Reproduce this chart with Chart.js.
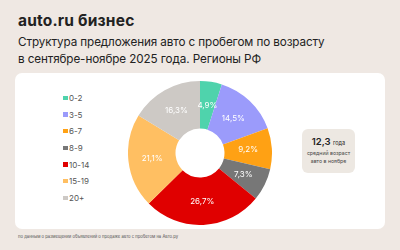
<!DOCTYPE html>
<html>
<head>
<meta charset="utf-8">
<script src="https://cdn.jsdelivr.net/npm/chart.js@4"></script>
<style>
  html, body { margin: 0; padding: 0; }
  body { width: 400px; height: 250px; background: #efe8e3; position: relative; overflow: hidden;
         font-family: Inter, "Noto Sans", sans-serif; color: #222; }
  .logo { position: absolute; left: 18px; top: 11px; font-size: 15.5px; font-weight: 700; letter-spacing: 0.2px; }
  .title { position: absolute; left: 18px; top: 34px; font-size: 11.7px; line-height: 16.5px; letter-spacing: -0.1px; }
  .card { position: absolute; left: 15px; top: 73px; width: 370px; height: 156px; background: #fff; border-radius: 7px; }
  #wrap { position: absolute; left: 128px; top: 81px; width: 144px; height: 144px; }
  #legend { position: absolute; left: 63px; top: 92px; font-size: 8px; color: #555; }
  #legend div { height: 16.7px; line-height: 12px; white-space: nowrap; }
  #legend span { display: inline-block; width: 4.5px; height: 4.5px; margin-right: 1.5px; vertical-align: 1px; }
  .info { position: absolute; left: 302px; top: 129px; width: 53px; height: 44px; background: #ede8e2; border-radius: 6px; text-align: center; }
  .info .big { margin-top: 7px; font-size: 9.5px; font-weight: 600; }
  .info .big small { font-size: 5.5px; font-weight: 400; }
  .info .sub { margin-top: 3px; font-size: 5.2px; line-height: 7.5px; color: #444; }
  .note { position: absolute; left: 18px; top: 233.5px; font-size: 4.2px; color: #555; }
</style>
</head>
<body>
<div class="logo">auto.ru бизнес</div>
<div class="title">Структура предложения авто с пробегом по возрасту<br>в сентябре-ноябре 2025 года. Регионы РФ</div>
<div class="card"></div>
<div id="legend"></div>
<div id="wrap"><canvas id="pie"></canvas></div>
<div class="info"><div class="big">12,3 <small>года</small></div><div class="sub">средний возраст<br>авто в ноябре</div></div>
<div class="note">по данным о размещении объявлений о продаже авто с пробегом на Авто.ру</div>
<script>
const ageGroups = ['0-2', '3-5', '6-7', '8-9', '10-14', '15-19', '20+'];
const shares = [4.9, 14.5, 9.2, 7.3, 26.7, 21.1, 16.3];
const sliceColors = ['#4fd3ac', '#9b9bfb', '#ffa114', '#777777', '#e00000', '#ffbf62', '#cdc9c5'];

// legend from the same arrays
const legend = document.getElementById('legend');
ageGroups.forEach((g, i) => {
  const row = document.createElement('div');
  row.innerHTML = '<span style="background:' + sliceColors[i] + '"></span>' + g;
  legend.appendChild(row);
});

const sliceLabels = {
  id: 'sliceLabels',
  afterDatasetsDraw(chart) {
    const ctx = chart.ctx;
    const meta = chart.getDatasetMeta(0);
    ctx.save();
    ctx.fillStyle = '#fff';
    ctx.font = '8px Inter, "Noto Sans", sans-serif';
    ctx.textAlign = 'center';
    ctx.textBaseline = 'middle';
    meta.data.forEach((arc, i) => {
      const p = arc.tooltipPosition();
      ctx.fillText(shares[i].toFixed(1).replace('.', ',') + '%', p.x, p.y);
    });
    ctx.restore();
  }
};

new Chart(document.getElementById('pie'), {
  type: 'doughnut',
  data: {
    labels: ageGroups,
    datasets: [{ data: shares, backgroundColor: sliceColors, borderWidth: 0 }]
  },
  options: {
    responsive: true,
    maintainAspectRatio: false,
    animation: false,
    cutout: '34%',
    layout: { padding: 0 },
    plugins: {
      legend: { display: false },
      tooltip: { enabled: false }
    }
  },
  plugins: [sliceLabels]
});
</script>
</body>
</html>
